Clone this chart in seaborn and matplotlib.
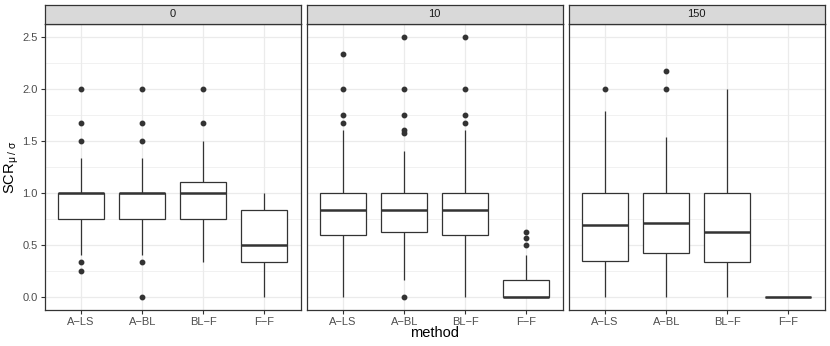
import numpy as np
import pandas as pd
import matplotlib
matplotlib.use("Agg")
import matplotlib.pyplot as plt
import seaborn as sns
from matplotlib.patches import Rectangle

# ---------------- data ----------------
methods = ["A\u2212LS", "A\u2212BL", "BL\u2212F", "F\u2212F"]
facets = ["0", "10", "150"]

# facet 0
scr0_als = [0.25, 0.333, 0.4, 0.75, 0.75, 0.8, 0.875, 1.0, 1.0, 1.0, 1.0, 1.0, 1.0, 1.333, 1.5, 1.667, 2.0]
scr0_abl = [0.0, 0.333, 0.4, 0.75, 0.75, 0.8, 0.875, 1.0, 1.0, 1.0, 1.0, 1.0, 1.0, 1.333, 1.5, 1.667, 2.0]
scr0_blf = [0.333, 0.5, 0.667, 0.75, 0.8, 0.9, 1.0, 1.0, 1.05, 1.1, 1.5, 1.667, 2.0]
scr0_ff = [0.0, 0.25, 0.333, 0.4, 0.5, 0.667, 0.833, 0.9, 1.0]

# facet 10
scr10_als = [0.0, 0.2, 0.333, 0.5, 0.571, 0.6, 0.667, 0.75, 0.8, 0.833, 0.833,
             0.857, 0.9, 1.0, 1.0, 1.0, 1.6, 1.667, 1.75, 2.0, 2.333]
scr10_abl = [0.0, 0.167, 0.333, 0.4, 0.5, 0.6, 0.625, 0.667, 0.714, 0.75, 0.8, 0.833, 0.833,
             0.857, 0.875, 0.9, 1.0, 1.0, 1.0, 1.4, 1.571, 1.6, 1.75, 2.0, 2.5]
scr10_blf = [0.0, 0.2, 0.333, 0.5, 0.571, 0.6, 0.667, 0.75, 0.8, 0.833, 0.833,
             0.857, 0.9, 1.0, 1.0, 1.0, 1.6, 1.667, 1.75, 2.0, 2.5]
scr10_ff = [0.0, 0.0, 0.0, 0.0, 0.0, 0.0, 0.0, 0.0, 0.0, 0.1, 0.125, 0.143, 0.167,
            0.4, 0.5, 0.5625, 0.625]

# facet 150
scr150_als = [0.0, 0.2, 0.35, 0.5, 0.69, 0.8, 1.0, 1.786, 2.0]
scr150_abl = [0.0, 0.2, 0.333, 0.425, 0.5, 0.6, 0.71, 0.8, 0.9, 1.0, 1.538, 2.0, 2.167]
scr150_blf = [0.0, 0.2, 0.333, 0.5, 0.625, 0.75, 1.0, 1.5, 2.0]
scr150_ff = [0.0, 0.0, 0.0, 0.0, 0.0]

groups = {
    "0": [scr0_als, scr0_abl, scr0_blf, scr0_ff],
    "10": [scr10_als, scr10_abl, scr10_blf, scr10_ff],
    "150": [scr150_als, scr150_abl, scr150_blf, scr150_ff],
}

rows = []
for f in facets:
    for m, vals in zip(methods, groups[f]):
        for v in vals:
            rows.append({"facet": f, "method": m, "value": v})
df = pd.DataFrame(rows)

yticks = [0.0, 0.5, 1.0, 1.5, 2.0, 2.5]
ytick_labels = ["0.0", "0.5", "1.0", "1.5", "2.0", "2.5"]

# ---------------- style ----------------
sns.set_style("white")
plt.rcParams["font.family"] = ["Liberation Sans", "DejaVu Sans"]
plt.rcParams["mathtext.fontset"] = "custom"
plt.rcParams["mathtext.rm"] = "Liberation Sans"
plt.rcParams["mathtext.it"] = "Liberation Sans:italic"

W, H = 830, 346
fig = plt.figure(figsize=(W / 100, H / 100), dpi=100)
fig.patch.set_facecolor("white")

dark = "#333333"
grid = "#EBEBEB"
panel_lefts = [44.5, 306.5, 568.5]
panel_w = 256.5
panel_top, panel_bot = 23.7, 310.0
strip_top = 5.0

for i, f in enumerate(facets):
    left = panel_lefts[i]
    ax = fig.add_axes([left / W, (H - panel_bot) / H, panel_w / W, (panel_bot - panel_top) / H])
    sub = df[df["facet"] == f]
    sns.boxplot(data=sub, x="method", y="value", order=methods, ax=ax,
                color="white", linecolor=dark, linewidth=0.9, width=0.75,
                whis=1.5, showcaps=False, fliersize=3.2,
                flierprops=dict(marker="o", markerfacecolor=dark, markeredgecolor=dark),
                medianprops=dict(linewidth=1.8, color=dark), saturation=1)
    ax.set_xlim(-0.6, 3.6)
    ax.set_ylim(-0.125, 2.625)
    ax.set_yticks(yticks)
    ax.set_yticks([0.25, 0.75, 1.25, 1.75, 2.25], minor=True)
    ax.grid(True, which="major", color=grid, linewidth=0.9, zorder=0)
    ax.grid(True, which="minor", axis="y", color=grid, linewidth=0.5, zorder=0)
    ax.set_axisbelow(True)
    ax.set_xlabel("")
    ax.set_ylabel("")
    ax.tick_params(axis="both", which="major", length=3, width=0.8, color=dark,
                   labelsize=8, labelcolor="#4D4D4D", pad=2, direction="out",
                   bottom=True, left=True)
    ax.tick_params(axis="y", which="minor", length=0)
    if i == 0:
        ax.set_yticklabels(ytick_labels)
    else:
        ax.tick_params(axis="y", labelleft=False, left=False)
    for s in ax.spines.values():
        s.set_color(dark)
        s.set_linewidth(0.9)
        s.set_visible(True)

    # strip
    sax = fig.add_axes([left / W, (H - panel_top) / H, panel_w / W, (panel_top - strip_top) / H])
    sax.set_facecolor("#D9D9D9")
    sax.set_xticks([])
    sax.set_yticks([])
    for s in sax.spines.values():
        s.set_color(dark)
        s.set_linewidth(0.9)
        s.set_visible(True)
    sax.text(0.5, 0.5, f, ha="center", va="center", fontsize=8, color="#1A1A1A",
             transform=sax.transAxes)

fig.text(434.75 / W, 1 - 333 / H, "method", ha="center", va="center", fontsize=10.5, color="black")
fig.text(12 / W, 1 - 166.8 / H, r"SCR$_{\mathregular{\mu\ /\ \sigma}}$", ha="center", va="center",
         rotation=90, fontsize=10.5, color="black")

fig.savefig("out.png", dpi=100)
